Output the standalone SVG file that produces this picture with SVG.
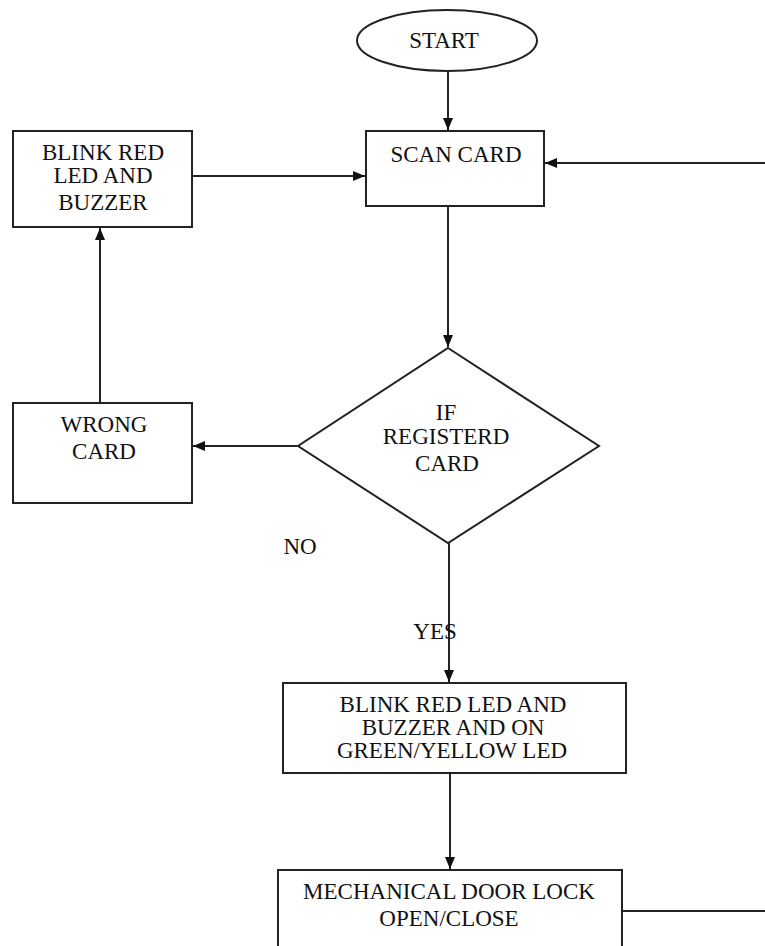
<svg xmlns="http://www.w3.org/2000/svg" width="765" height="946" viewBox="0 0 765 946">
<style>
.s{fill:#fff;stroke:#222;stroke-width:2}
.c{fill:none;stroke:#222;stroke-width:2}
.t{font-family:'Liberation Serif','Times New Roman','DejaVu Serif',serif;font-size:23px;fill:#111;text-anchor:middle}
</style>
<defs>
<marker id="a" viewBox="0 0 12 10" refX="12" refY="5" markerWidth="12" markerHeight="10" markerUnits="userSpaceOnUse" orient="auto">
<path d="M0,0 L12,5 L0,10 z" fill="#111"/>
</marker>
</defs>
<rect width="765" height="946" fill="#fff"/>
<g id="connectors">
<line class="c" x1="448" y1="71" x2="448" y2="130" marker-end="url(#a)"/>
<line class="c" x1="765" y1="163" x2="545" y2="163" marker-end="url(#a)"/>
<line class="c" x1="192" y1="176" x2="365" y2="176" marker-end="url(#a)"/>
<line class="c" x1="100" y1="403" x2="100" y2="228" marker-end="url(#a)"/>
<line class="c" x1="448" y1="206" x2="448" y2="347" marker-end="url(#a)"/>
<line class="c" x1="297" y1="446" x2="193" y2="446" marker-end="url(#a)"/>
<line class="c" x1="449" y1="543" x2="449" y2="682" marker-end="url(#a)"/>
<line class="c" x1="450" y1="773" x2="450" y2="869" marker-end="url(#a)"/>
<line class="c" x1="622" y1="911" x2="765" y2="911"/>
</g>
<g id="start">
<ellipse class="s" cx="447" cy="40.5" rx="90" ry="30.5"/>
<text class="t" x="444" y="48">START</text>
</g>
<g id="scan">
<rect class="s" x="366" y="131" width="178" height="75"/>
<text class="t" x="456" y="162">SCAN CARD</text>
</g>
<g id="blink1">
<rect class="s" x="13" y="131" width="179" height="96"/>
<text class="t" x="103" y="160">BLINK RED</text>
<text class="t" x="103" y="183">LED AND</text>
<text class="t" x="103" y="210">BUZZER</text>
</g>
<g id="wrong">
<rect class="s" x="13" y="403" width="179" height="100"/>
<text class="t" x="104" y="432">WRONG</text>
<text class="t" x="104" y="459">CARD</text>
</g>
<g id="decision">
<polygon class="s" points="448,348 599,446 448,543 298,446"/>
<text class="t" x="446" y="420">IF</text>
<text class="t" x="446" y="444">REGISTERD</text>
<text class="t" x="447" y="471">CARD</text>
</g>
<g id="labels">
<text class="t" x="300" y="554">NO</text>
<text class="t" x="435" y="639">YES</text>
</g>
<g id="blink2">
<rect class="s" x="283" y="683" width="343" height="90"/>
<text class="t" x="453" y="712">BLINK RED LED AND</text>
<text class="t" x="453" y="735">BUZZER AND ON</text>
<text class="t" x="452" y="758">GREEN/YELLOW LED</text>
</g>
<g id="mech">
<rect class="s" x="278" y="870" width="344" height="90"/>
<text class="t" x="449" y="899">MECHANICAL DOOR LOCK</text>
<text class="t" x="449" y="926">OPEN/CLOSE</text>
</g>
</svg>
